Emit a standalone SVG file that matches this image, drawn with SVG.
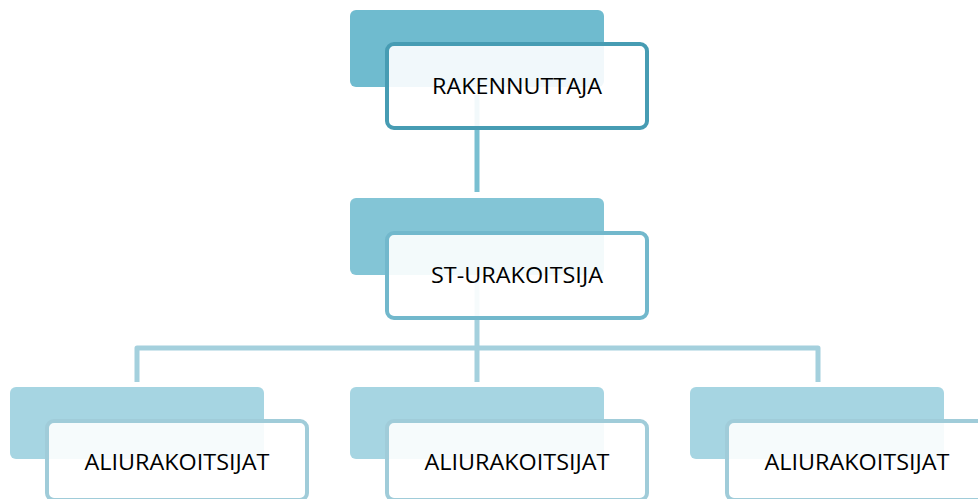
<svg xmlns="http://www.w3.org/2000/svg" width="978" height="499" viewBox="0 0 978 499">
<style>
.back{stroke:none}
.front{fill:#ffffff;fill-opacity:0.9;stroke-width:4}
.lbl{font-family:"Open Sans","Liberation Sans",sans-serif;font-size:21.5px;fill:#000;text-anchor:middle}
.conn{fill:none;stroke-width:5;stroke-linejoin:round}
</style>
<rect width="978" height="499" fill="#ffffff"/>
<g id="connectors">
<path class="conn" d="M477 95 V192" stroke="#79bfd1"/>
<path class="conn" d="M477 280 V382 M137 382 V348 H818 V382" stroke="#a4d0dd"/>
</g>
<g id="n1">
<rect class="back" x="350" y="10" width="254" height="77" rx="6" fill="#6fbbcf"/>
<rect class="front" x="387" y="44" width="260" height="84" rx="7" stroke="#479cb3"/>
<text class="lbl" x="517" y="94" textLength="170" lengthAdjust="spacingAndGlyphs">RAKENNUTTAJA</text>
</g>
<g id="n2">
<rect class="back" x="350" y="198" width="254" height="77" rx="6" fill="#83c5d6"/>
<rect class="front" x="387" y="233" width="260" height="85" rx="7" stroke="#72b8cc"/>
<text class="lbl" x="517" y="283" textLength="172" lengthAdjust="spacingAndGlyphs">ST-URAKOITSIJA</text>
</g>
<g id="n3">
<rect class="back" x="10" y="387" width="254" height="72" rx="6" fill="#a6d5e2"/>
<rect class="front" x="47" y="421" width="260" height="79" rx="7" stroke="#a0ccd9"/>
<text class="lbl" x="177" y="470" textLength="185" lengthAdjust="spacingAndGlyphs">ALIURAKOITSIJAT</text>
</g>
<g id="n4">
<rect class="back" x="350" y="387" width="254" height="72" rx="6" fill="#a6d5e2"/>
<rect class="front" x="387" y="421" width="260" height="79" rx="7" stroke="#a0ccd9"/>
<text class="lbl" x="517" y="470" textLength="185" lengthAdjust="spacingAndGlyphs">ALIURAKOITSIJAT</text>
</g>
<g id="n5">
<rect class="back" x="690" y="387" width="254" height="72" rx="6" fill="#a6d5e2"/>
<rect class="front" x="727" y="421" width="260" height="79" rx="7" stroke="#a0ccd9"/>
<text class="lbl" x="857" y="470" textLength="185" lengthAdjust="spacingAndGlyphs">ALIURAKOITSIJAT</text>
</g>
</svg>
